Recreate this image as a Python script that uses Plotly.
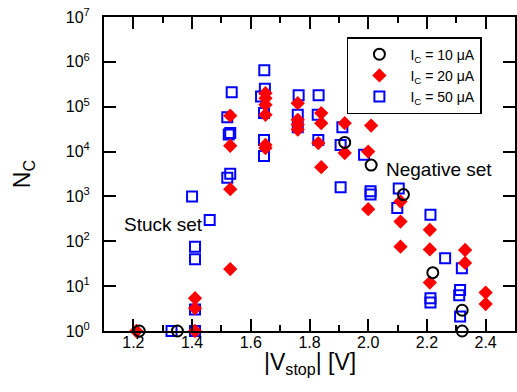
import plotly.graph_objects as go

# I_C = 10 uA (black open circles)
x10 = [1.22, 1.35, 1.92, 2.01, 2.12, 2.22, 2.32, 2.32]
y10 = [1, 1, 16000, 5000, 1100, 20, 2.9, 1]

# I_C = 20 uA (red diamonds)
x20 = [1.21, 1.41, 1.41, 1.41,
       1.53, 1.53, 1.53, 1.53,
       1.65, 1.65, 1.65, 1.65, 1.65, 1.65,
       1.76, 1.76, 1.76, 1.76,
       1.84, 1.83, 1.84, 1.84,
       1.92, 1.92,
       2.00, 2.00, 2.01,
       2.11, 2.11, 2.11,
       2.21, 2.21, 2.21,
       2.33, 2.33,
       2.40, 2.40]
y20 = [1, 1, 3.2, 5.4,
       24, 1450, 13500, 63000,
       12000, 14000, 66000, 110000, 155000, 200000,
       31000, 40000, 51000, 120000,
       4500, 15500, 43000, 72000,
       9300, 43000,
       520, 10000, 38000,
       76, 275, 770,
       12, 66, 180,
       33, 64,
       4, 7.2]

# I_C = 50 uA (blue open squares)
x50 = [1.33, 1.41, 1.41, 1.41, 1.41, 1.40,
       1.46,
       1.52, 1.53, 1.525, 1.53, 1.52, 1.535,
       1.645, 1.645, 1.645, 1.635, 1.648, 1.646,
       1.76, 1.76, 1.763,
       1.83, 1.828, 1.831,
       1.906, 1.906, 1.912,
       1.986,
       2.008, 2.008,
       2.099, 2.104,
       2.212, 2.212, 2.212,
       2.262,
       2.313, 2.31, 2.313, 2.319]
y50 = [1, 1, 3, 40, 76, 1000,
       300,
       2600, 3200, 24000, 26000, 58000, 210000,
       8000, 18000, 72000, 170000, 250000, 650000,
       35000, 66000, 180000,
       18000, 66000, 180000,
       1600, 14000, 35000,
       8500,
       1100, 1300,
       550, 1500,
       4.3, 5.4, 390,
       42,
       2.1, 6.3, 8.2, 25]

xticks = [1.2, 1.4, 1.6, 1.8, 2.0, 2.2, 2.4]
xtick_text = ["1.2", "1.4", "1.6", "1.8", "2.0", "2.2", "2.4"]
yticks = [1, 10, 100, 1000, 10000, 100000, 1000000, 10000000]
ytick_text = ["10<sup>%d</sup>" % i for i in range(8)]

font = "Liberation Sans, Arial, sans-serif"

fig = go.Figure()
fig.add_trace(go.Scatter(
    x=x50, y=y50, mode="markers", name="I<sub>C</sub> = 50 μA",
    marker=dict(symbol="square-open", size=10, color="#0000ff",
                line=dict(width=2, color="#0000ff")),
    cliponaxis=False, legendrank=3))
fig.add_trace(go.Scatter(
    x=x20, y=y20, mode="markers", name="I<sub>C</sub> = 20 μA",
    marker=dict(symbol="diamond", size=11, color="#ff0000"),
    cliponaxis=False, legendrank=2))
fig.add_trace(go.Scatter(
    x=x10, y=y10, mode="markers", name="I<sub>C</sub> = 10 μA",
    marker=dict(symbol="circle-open", size=11, color="#000000",
                line=dict(width=2, color="#000000")),
    cliponaxis=False, legendrank=1))

fig.add_annotation(x=1.161, y=2.366, xref="x", yref="y", text="Stuck set",
                   showarrow=False, xanchor="left", yanchor="middle",
                   font=dict(size=19, color="black", family=font))
fig.add_annotation(x=2.053, y=3.594, xref="x", yref="y", text="Negative set",
                   showarrow=False, xanchor="left", yanchor="middle",
                   font=dict(size=19, color="black", family=font))
# x-axis title placed as an annotation for precise positioning
fig.add_annotation(x=0.5, y=-0.051, xref="paper", yref="paper",
                   text="|V<sub>stop</sub>| [V]", showarrow=False,
                   xanchor="center", yanchor="top",
                   font=dict(size=23, color="black", family=font))

fig.update_layout(
    width=517, height=392,
    margin=dict(l=104, r=0, t=17, b=61),
    paper_bgcolor="white", plot_bgcolor="white",
    font=dict(family=font, color="black", size=15),
    showlegend=True,
    legend=dict(x=0.591, y=0.936, xanchor="left", yanchor="top",
                bordercolor="black", borderwidth=1.5, bgcolor="white",
                font=dict(size=14, family=font), itemwidth=52,
                tracegroupgap=0),
    xaxis=dict(range=[1.1, 2.5], tickvals=xticks, ticktext=xtick_text,
               ticks="inside", ticklen=12, tickwidth=2, tickcolor="black",
               showline=True, linewidth=2, linecolor="black", mirror="ticks",
               showgrid=False, zeroline=False,
               tickfont=dict(size=16), ticklabelstandoff=-4,
               minor=dict(ticks="inside", ticklen=6, tickwidth=2,
                          tickcolor="black", tick0=1.1, dtick=0.1, showgrid=False)),
    yaxis=dict(type="log", range=[0, 7], tickvals=yticks, ticktext=ytick_text,
               ticks="inside", ticklen=12, tickwidth=2, tickcolor="black",
               showline=True, linewidth=2, linecolor="black", mirror="ticks",
               showgrid=False, zeroline=False,
               tickfont=dict(size=16), ticklabelstandoff=9,
               title=dict(text="N<sub>C</sub>", font=dict(size=23), standoff=29)),
)

fig.write_html("out.html")
